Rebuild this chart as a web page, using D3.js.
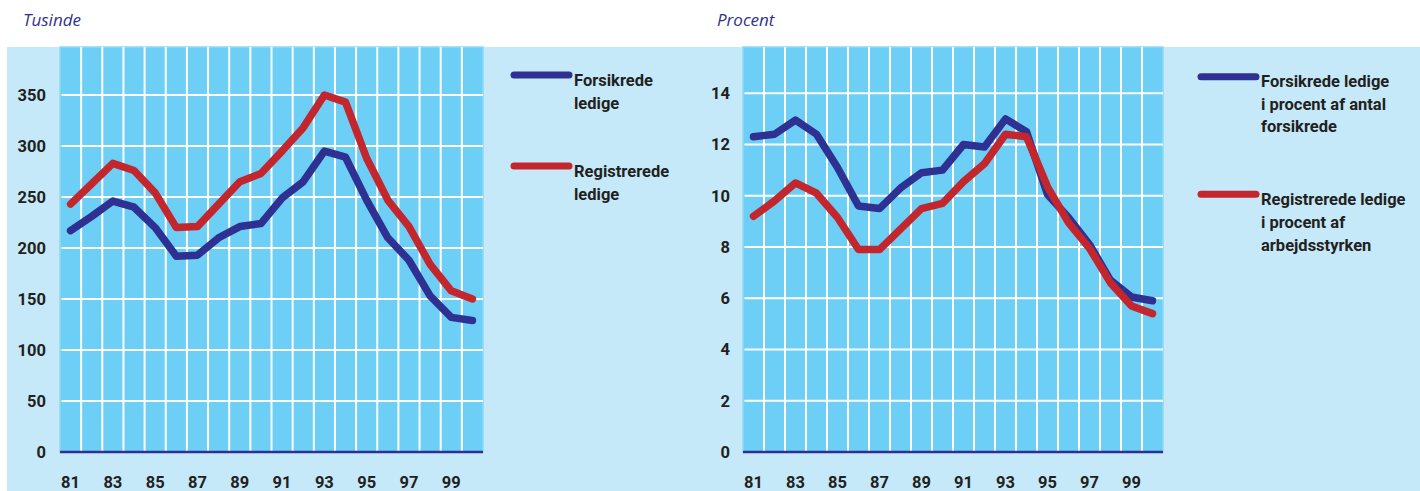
<!DOCTYPE html>
<html>
<head>
<meta charset="utf-8">
<script src="https://cdn.jsdelivr.net/npm/d3@7"></script>
<style>
  body { margin: 0; background: #fff; }
  svg { display: block; }
  .lbl { font-family: Roboto, 'Noto Sans', sans-serif; font-weight: bold; fill: #231f20; }
  .ttl { font-family: 'Open Sans', sans-serif; font-style: italic; fill: #2e3192; }
</style>
</head>
<body>
<div id="chart"></div>
<script>
// years 1981-2000
const years = ["81","82","83","84","85","86","87","88","89","90","91","92","93","94","95","96","97","98","99","00"];
const yearLabels = ["81","83","85","87","89","91","93","95","97","99"];

// Tusinde
const forsikredeTusinde = [217, 231, 246, 240, 220, 192, 193, 210, 221, 224, 249, 265, 295, 289, 247, 210, 188, 153, 132, 129];
const registreredeTusinde = [243, 263, 283, 276, 254, 220, 221, 243, 265, 273, 295, 318, 350, 343, 288, 247, 221, 184, 158, 150];
const tusindeTicks = [0, 50, 100, 150, 200, 250, 300, 350];

// Procent
const forsikredeProcent = [12.3, 12.4, 12.95, 12.4, 11.1, 9.6, 9.5, 10.3, 10.9, 11.0, 12.0, 11.9, 13.0, 12.5, 10.05, 9.15, 8.1, 6.7, 6.05, 5.9];
const registreredeProcent = [9.2, 9.8, 10.5, 10.1, 9.15, 7.9, 7.9, 8.7, 9.5, 9.7, 10.55, 11.25, 12.4, 12.3, 10.35, 8.95, 7.95, 6.6, 5.7, 5.4];
const procentTicks = [0, 2, 4, 6, 8, 10, 12, 14];

const navy = "#2e3192", red = "#c4262e";
const plotFill = "#6dcff6", lightFill = "#c6e9f9";

const svg = d3.select("#chart").append("svg")
    .attr("width", 1420)
    .attr("height", 491);

svg.append("rect")
    .attr("x", 7).attr("y", 47)
    .attr("width", 1413).attr("height", 444)
    .attr("fill", lightFill);

function drawPanel(p) {
    const x = d3.scaleBand().domain(years).range([p.left, p.right]);
    const y = d3.scaleLinear().domain([0, p.max]).range([452, p.topRange]);
    const g = svg.append("g");

    g.append("rect")
        .attr("x", p.left).attr("y", 47)
        .attr("width", p.right - p.left).attr("height", 452 - 47)
        .attr("fill", plotFill)
        .attr("stroke", "#8fdaf7")
        .attr("stroke-width", 1.5);

    // vertical grid at band edges
    g.selectAll(".vgrid")
        .data(years.slice(1))
        .enter().append("line")
        .attr("x1", d => x(d)).attr("x2", d => x(d))
        .attr("y1", 47).attr("y2", 452)
        .attr("stroke", "#fff").attr("stroke-width", 2);

    g.selectAll(".hgrid")
        .data(p.ticks.filter(d => d > 0))
        .enter().append("line")
        .attr("x1", p.left + 1.5).attr("x2", p.right)
        .attr("y1", d => y(d)).attr("y2", d => y(d))
        .attr("stroke", "#fff").attr("stroke-width", 2);

    // zero line
    g.append("line")
        .attr("x1", p.left).attr("x2", p.right)
        .attr("y1", y(0)).attr("y2", y(0))
        .attr("stroke", navy).attr("stroke-width", 2.5);

    g.selectAll(".ytick")
        .data(p.ticks)
        .enter().append("text")
        .attr("class", "lbl")
        .attr("x", p.labelX)
        .attr("y", d => y(d))
        .attr("dy", "0.36em")
        .attr("text-anchor", "end")
        .style("font-size", "16.5px")
        .text(d => d);

    g.selectAll(".xtick")
        .data(yearLabels)
        .enter().append("text")
        .attr("class", "lbl")
        .attr("x", d => x(d) + x.bandwidth() / 2)
        .attr("y", 488)
        .attr("text-anchor", "middle")
        .style("font-size", "16.5px")
        .text(d => d);

    const line = d3.line()
        .x((d, i) => x(years[i]) + x.bandwidth() / 2)
        .y(d => y(d));

    [[p.blue, navy], [p.red, red]].forEach(([vals, col]) => {
        g.append("path")
            .datum(vals)
            .attr("d", line)
            .attr("fill", "none")
            .attr("stroke", col)
            .attr("stroke-width", 7.5)
            .attr("stroke-linejoin", "round")
            .attr("stroke-linecap", "round");
    });

    svg.append("text")
        .attr("class", "ttl")
        .attr("x", p.titleX).attr("y", 26)
        .style("font-size", "17px")
        .text(p.title);

    p.legend.forEach(item => {
        g.append("line")
            .attr("x1", item.x1).attr("x2", item.x1 + 55)
            .attr("y1", item.y).attr("y2", item.y)
            .attr("stroke", item.color)
            .attr("stroke-width", 7)
            .attr("stroke-linecap", "round");
        const t = g.append("text")
            .attr("class", "lbl")
            .attr("x", item.x1 + 60)
            .attr("y", item.base)
            .style("font-size", "16.5px");
        item.lines.forEach((s, i) => {
            t.append("tspan")
                .attr("x", item.x1 + 60)
                .attr("y", item.base + i * 22.8)
                .text(s);
        });
    });
}

drawPanel({
    left: 60, right: 483, max: 400, topRange: 44,
    ticks: tusindeTicks, labelX: 46, titleX: 23, title: "Tusinde",
    blue: forsikredeTusinde, red: registreredeTusinde,
    legend: [
        {x1: 514, y: 75, base: 85.7, color: navy, lines: ["Forsikrede", "ledige"]},
        {x1: 514, y: 166, base: 176.7, color: red, lines: ["Registrerede", "ledige"]}
    ]
});

drawPanel({
    left: 743, right: 1163, max: 16, topRange: 42,
    ticks: procentTicks, labelX: 730, titleX: 717, title: "Procent",
    blue: forsikredeProcent, red: registreredeProcent,
    legend: [
        {x1: 1201, y: 76.7, base: 86.7, color: navy, lines: ["Forsikrede ledige", "i procent af antal", "forsikrede"]},
        {x1: 1201, y: 194.3, base: 205, color: red, lines: ["Registrerede ledige", "i procent af", "arbejdsstyrken"]}
    ]
});
</script>
</body>
</html>
